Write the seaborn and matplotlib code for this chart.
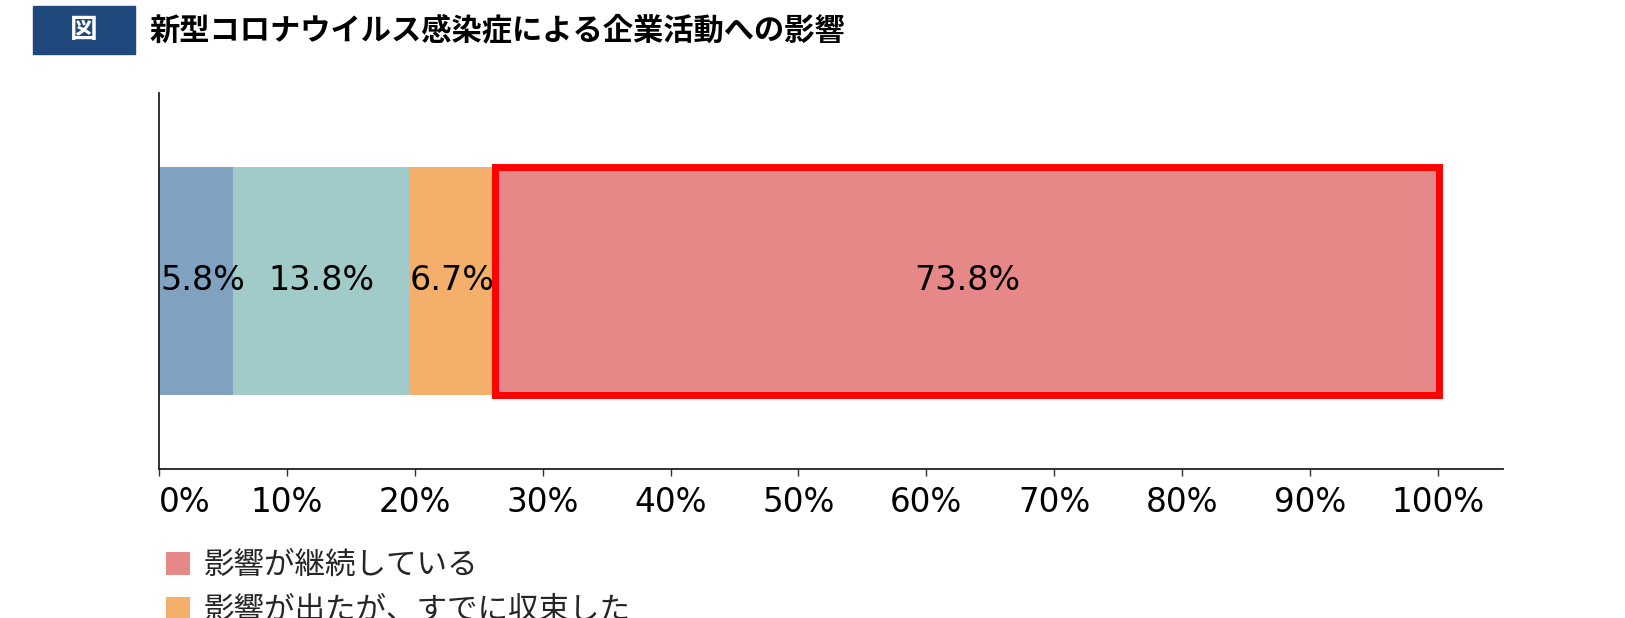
import matplotlib
matplotlib.use('Agg')
import matplotlib.pyplot as plt
from matplotlib.patches import Rectangle, Patch
import seaborn as sns
import pandas as pd

# データ
category = ['全体']
shares = [5.8, 13.8, 6.7, 73.8]
colors = ['#80A1BF', '#A1CBC8', '#F4B06A', '#E68887']
legend_labels = ['影響が継続している', '影響が出たが、すでに収束した']
legend_colors = ['#E68887', '#F4B06A']
xticks = [0, 10, 20, 30, 40, 50, 60, 70, 80, 90, 100]
xtick_labels = [f'{v}%' for v in xticks]
title = '新型コロナウイルス感染症による企業活動への影響'

sns.set_theme(style='white')
plt.rcParams['font.family'] = ['DejaVu Sans', 'Noto Sans CJK JP']
cjk = ['Noto Sans CJK JP', 'DejaVu Sans']

W, H = 1625, 618
fig = plt.figure(figsize=(W / 100, H / 100), dpi=100)
ax = fig.add_axes([159 / W, 1 - 469 / H, 1344 / W, (469 - 93) / H])

# 積み上げ横棒（最後の系列を赤枠で強調）
left = 0
for i, (v, c) in enumerate(zip(shares, colors)):
    df = pd.DataFrame({'cat': category, 'share': [v]})
    last = i == len(shares) - 1
    sns.barplot(data=df, x='share', y='cat', orient='h', color=c, saturation=1,
                width=0.604, errorbar=None, ax=ax, left=left,
                edgecolor='#FF0000' if last else 'none',
                linewidth=5 if last else 0)
    left += v

for cont, v in zip(ax.containers, shares):
    txts = ax.bar_label(cont, labels=[f'{v}%'], label_type='center', fontsize=24, color='black')
    if v == shares[0]:
        txts[0].xyann = (5, 0)  # 左端のラベルを少し右へ

ax.set_xlim(0, 105.1)
ax.set_ylim(0.5, -0.5)
ax.set_xticks(xticks)
ax.set_xticklabels(xtick_labels)
ax.get_xticklabels()[0].set_ha('left')
ax.set_yticks([])
ax.set_xlabel('')
ax.set_ylabel('')
for s in ['top', 'right']:
    ax.spines[s].set_visible(False)
for s in ['left', 'bottom']:
    ax.spines[s].set_color('#222222')
    ax.spines[s].set_linewidth(1.3)
ax.tick_params(axis='x', bottom=True, length=5, width=1, color='#333333',
               pad=7, labelsize=23.5, labelcolor='black')

# タイトル
fig.patches.append(Rectangle((33 / W, 1 - 54 / H), 102 / W, 48 / H,
                             transform=fig.transFigure, color='#1F497D'))
fig.text(84 / W, 1 - 30 / H, '図', color='white', fontsize=20, fontweight='bold',
         ha='center', va='center', family=cjk)
fig.text(150 / W, 1 - 30 / H, title, color='black', fontsize=21.8, fontweight='bold',
         ha='left', va='center', family=cjk)

# 凡例
handles = [Patch(facecolor=c, edgecolor='none') for c in legend_colors]
fig.legend(handles, legend_labels, loc='upper left', bbox_to_anchor=(166 / W, 1 - 550 / H),
           frameon=False, borderpad=0, borderaxespad=0, handlelength=0.78,
           handleheight=0.78, handletextpad=0.47, labelspacing=0.45,
           prop={'family': cjk, 'size': 22})

fig.savefig('out.png', dpi=100)
